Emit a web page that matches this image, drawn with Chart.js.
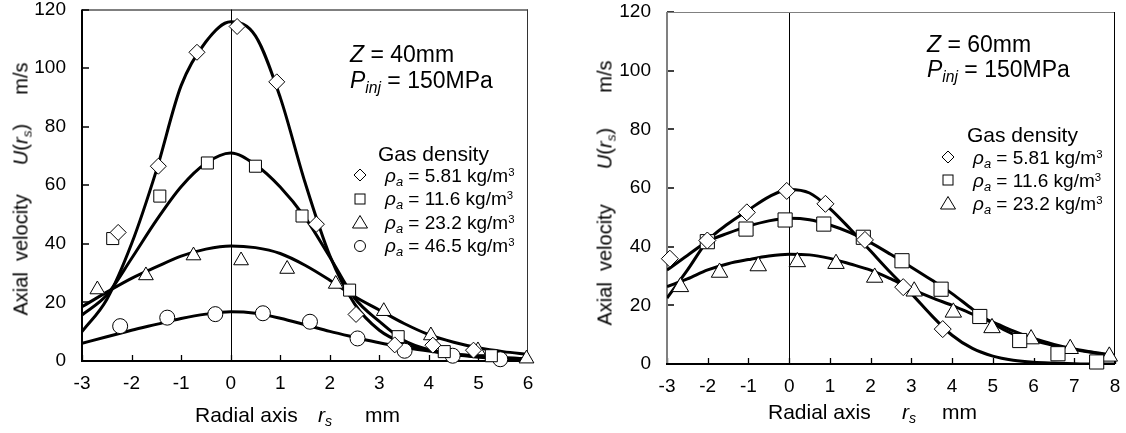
<!DOCTYPE html>
<html>
<head>
<meta charset="utf-8">
<title>Axial velocity profiles</title>
<script src="https://cdn.jsdelivr.net/npm/chart.js@4.4.1/dist/chart.umd.min.js"></script>
<style>
  html, body { margin: 0; padding: 0; background: #fff; }
  body { position: relative; width: 1126px; height: 433px; overflow: hidden;
         font-family: "Liberation Sans", Arial, sans-serif; color: #000; }
  canvas { position: absolute; top: 0; }
  #left { left: 0; }
  #right { left: 563px; }
  .lbl { position: absolute; line-height: 1; white-space: pre; }
  sub, sup { line-height: 0; }
  sub { font-size: 0.68em; vertical-align: -0.3em; }
  sup { font-size: 0.6em; vertical-align: 0.55em; }
  .ytitle { position: absolute; display: flex; justify-content: space-between;
            font-size: 20px; line-height: 1; height: 20px; white-space: pre;
            transform: rotate(-90deg); }
  .sym { position: absolute; overflow: visible; }
</style>
</head>
<body>
<canvas id="left" width="563" height="433"></canvas>
<canvas id="right" width="563" height="433"></canvas>
<script>
const FONT = '"Liberation Sans", Arial, sans-serif';

// axis ticks
const yTicks = [0, 20, 40, 60, 80, 100, 120];
const xTicksZ40 = [-3, -2, -1, 0, 1, 2, 3, 4, 5, 6];
const xTicksZ60 = [-3, -2, -1, 0, 1, 2, 3, 4, 5, 6, 7, 8];

// measured points, Z = 40mm   [r_s mm, U m/s]
const z40Rho581 = [[-2.27, 43.9], [-1.46, 66.5], [-0.68, 105.4], [0.13, 114.2], [0.93, 95.3],
                   [1.73, 46.7], [2.53, 15.9], [3.31, 5.5], [4.08, 5.4], [4.9, 3.7]];
const z40Rho116 = [[-2.38, 41.8], [-1.43, 56.3], [-0.47, 67.6], [0.5, 66.5], [1.44, 49.5],
                   [2.4, 24.2], [3.38, 8.3], [4.31, 3.2], [5.26, 1.8]];
const z40Rho232 = [[-2.69, 24.4], [-1.71, 29.2], [-0.75, 36], [0.21, 34.3], [1.14, 31.4],
                   [2.12, 26.3], [3.09, 17], [4.04, 8.7], [4.99, 3.6], [5.97, 0.8]];
const z40Rho465 = [[-2.23, 11.9], [-1.28, 14.8], [-0.31, 16], [0.65, 16.3], [1.6, 13.4],
                   [2.56, 7.7], [3.51, 3.5], [4.48, 1.8], [5.44, 0.6]];

// fitted curves, Z = 40mm, read every 0.5 mm
const curveX40 = [-3, -2.5, -2, -1.5, -1, -0.5, 0, 0.5, 1, 1.5, 2, 2.5, 3, 3.5, 4, 4.5, 5, 5.5, 6];
const fit40Rho581 = [10, 21, 40, 65, 94, 109, 115.8, 111, 90, 61, 36, 19.5, 10.5, 6, 3.7, 2.2, 1.3, 0.8, 0.5];
const fit40Rho116 = [15.7, 22.5, 35, 48, 59.5, 67.5, 71, 67, 59.4, 49, 35.5, 21.5, 13.5, 7, 3.9, 2.4, 1.6, 1.1, 0.8];
const fit40Rho232 = [18.5, 23.5, 28.2, 32.1, 35.8, 38.2, 39.3, 38.7, 36.7, 32.7, 27.6, 22, 17.4, 12.8, 9, 6.4, 4.5, 3.2, 2.3];
const fit40Rho465 = [6, 8.3, 10.5, 12.5, 14.5, 16, 16.8, 16.3, 14.6, 12.4, 10.1, 8.1, 6.2, 4.7, 3.4, 2.4, 1.6, 1.1, 0.8];

// measured points, Z = 60mm
const z60Rho581 = [[-2.93, 35.9], [-2.01, 42.1], [-1.04, 51.7], [-0.06, 59], [0.89, 54.6],
                   [1.86, 42.3], [2.8, 26.2], [3.77, 11.9]];
const z60Rho116 = [[-2.01, 41.7], [-1.06, 46], [-0.1, 49.1], [0.85, 47.7], [1.82, 43.2],
                   [2.77, 35.2], [3.73, 25.5], [4.68, 16.2], [5.66, 8], [6.6, 3.5], [7.55, 0.7]];
const z60Rho232 = [[-2.67, 26.3], [-1.71, 31.2], [-0.76, 33.4], [0.2, 34.8], [1.15, 34.2],
                   [2.1, 29.5], [3.07, 24.8], [4.03, 17.6], [4.98, 12.3], [5.94, 8.5],
                   [6.9, 5.2], [7.86, 2.6]];

// fitted curves, Z = 60mm
const curveX60 = [-3, -2.5, -2, -1.5, -1, -0.5, 0, 0.5, 1, 1.5, 2, 2.5, 3, 3.5, 4, 4.5, 5, 5.5, 6, 6.5, 7, 7.5, 8];
const fit60Rho581 = [22.5, 32, 42, 47.8, 52.5, 57, 59.5, 58.3, 53, 46, 38.5, 31, 24, 16.5, 9.8, 5.3, 2.7, 1.3, 0.6, 0.3, 0.1, 0, 0];
const fit60Rho116 = [32, 37, 41.8, 44.6, 47, 48.8, 49.7, 49.2, 47.4, 44.8, 41.4, 37.3, 33, 28.6, 24, 18.7, 13.8, 10.2, 8, 6.3, 4.9, 3.8, 2.8];
const fit60Rho232 = [26.4, 29, 32.1, 34.2, 35.6, 36.8, 37.4, 37.2, 36, 34.1, 32, 29, 25.6, 22.6, 20, 17, 14.3, 11.3, 8.7, 6.7, 5.1, 3.9, 2.9];

// frame, inward ticks and the r_s = 0 line
const frame = {
    id: "frame",
    beforeDatasetsDraw(chart, _args, o) {
        const { ctx, chartArea: a } = chart;
        const xs = chart.scales.x, ys = chart.scales.y;
        const seg = (x1, y1, x2, y2, color, w) => {
            ctx.beginPath();
            ctx.strokeStyle = color;
            ctx.lineWidth = w;
            ctx.moveTo(x1, y1);
            ctx.lineTo(x2, y2);
            ctx.stroke();
        };
        ctx.save();
        const x0 = Math.round(xs.getPixelForValue(0)) + 0.5;
        seg(x0, a.top, x0, a.bottom, "#000", 1);
        xs.ticks.forEach((t) => {
            const p = Math.round(xs.getPixelForValue(t.value)) + 0.5;
            seg(p, a.bottom, p, a.bottom - 6, "#000", 1.3);
        });
        ys.ticks.forEach((t) => {
            const p = Math.round(ys.getPixelForValue(t.value));
            seg(a.left, p, a.left + 7, p, "#000", 1.5);
        });
        seg(a.left, a.top + 0.5, a.right, a.top + 0.5, o.top, 1);
        seg(a.right - 0.5, a.top, a.right - 0.5, a.bottom, o.right, 1);
        seg(a.left, a.top, a.left, a.bottom + 1, o.left, 2);
        seg(a.left - 1, a.bottom, a.right, a.bottom, "#000", 2);
        ctx.restore();
    },
};

function markers(points, style, r) {
    return {
        type: "scatter",
        data: points.map(([x, y]) => ({ x, y })),
        pointStyle: style,
        pointRadius: r,
        pointBackgroundColor: "#fff",
        pointBorderColor: "#000",
        pointBorderWidth: 1,
        showLine: false,
        clip: false,
        order: 0,
    };
}

function curve(xs, ys) {
    return {
        type: "line",
        data: xs.map((x, i) => ({ x, y: ys[i] })),
        borderColor: "#000",
        borderWidth: 3,
        pointRadius: 0,
        fill: false,
        cubicInterpolationMode: "monotone",
        order: 1,
    };
}

function build(id, cfg) {
    return new Chart(document.getElementById(id), {
        type: "scatter",
        data: { datasets: cfg.datasets },
        plugins: [frame],
        options: {
            responsive: false,
            animation: false,
            events: [],
            layout: { padding: { top: cfg.top, right: cfg.padRight, left: 0, bottom: 0 } },
            plugins: {
                legend: { display: false },
                tooltip: { enabled: false },
                frame: cfg.frame,
            },
            scales: {
                x: {
                    type: "linear",
                    min: cfg.xTicks[0],
                    max: cfg.xTicks[cfg.xTicks.length - 1],
                    grid: { display: false, drawTicks: false },
                    border: { display: false },
                    afterBuildTicks: (s) => { s.ticks = cfg.xTicks.map((v) => ({ value: v })); },
                    afterFit: (s) => { s.height = cfg.xHeight; s.paddingLeft = 0; s.paddingRight = 0; },
                    ticks: { padding: 11, autoSkip: false, maxRotation: 0, color: "#000",
                             font: { family: FONT, size: 19 } },
                },
                y: {
                    type: "linear",
                    min: 0,
                    max: 120,
                    grid: { display: false, drawTicks: false },
                    border: { display: false },
                    afterBuildTicks: (s) => { s.ticks = yTicks.map((v) => ({ value: v })); },
                    afterFit: (s) => { s.width = cfg.yWidth; s.paddingTop = 0; s.paddingBottom = 0; },
                    ticks: { padding: 16, color: "#000", font: { family: FONT, size: 19 } },
                },
            },
        },
    });
}

build("left", {
    top: 8, padRight: 35, xHeight: 72, yWidth: 82, xTicks: xTicksZ40,
    frame: { top: "#000", right: "#333", left: "#000" },
    datasets: [
        markers(z40Rho581, "rectRot", 8),
        markers(z40Rho116, "rect", 8.5),
        markers(z40Rho232, "triangle", 8.5),
        markers(z40Rho465, "circle", 7.5),
        curve(curveX40, fit40Rho581),
        curve(curveX40, fit40Rho116),
        curve(curveX40, fit40Rho232),
        curve(curveX40, fit40Rho465),
    ],
});

build("right", {
    top: 12, padRight: 8, xHeight: 69, yWidth: 104, xTicks: xTicksZ60,
    frame: { top: "#808080", right: "#000", left: "#808080" },
    datasets: [
        markers(z60Rho581, "rectRot", 8.5),
        markers(z60Rho116, "rect", 10),
        markers(z60Rho232, "triangle", 9.5),
        curve(curveX60, fit60Rho581),
        curve(curveX60, fit60Rho116),
        curve(curveX60, fit60Rho232),
    ],
});

// text overlays
function put(html, x, cy, size) {
    const d = document.createElement("div");
    d.className = "lbl";
    d.style.left = x + "px";
    d.style.top = (cy - size / 2) + "px";
    d.style.fontSize = size + "px";
    d.innerHTML = html;
    document.body.appendChild(d);
}

function yTitle(cx, yTop, yBottom) {
    const len = yBottom - yTop;
    const d = document.createElement("div");
    d.className = "ytitle";
    d.style.width = len + "px";
    d.style.left = (cx - len / 2) + "px";
    d.style.top = ((yTop + yBottom) / 2 - 10) + "px";
    d.innerHTML = "<span>Axial  velocity</span><span><i>U</i>(<i>r<sub>s</sub></i>)</span><span>m/s</span>";
    document.body.appendChild(d);
}

const SYMBOLS = {
    diamond: '<polygon points="7,1 13,7 7,13 1,7"/>',
    square: '<rect x="2" y="2" width="10" height="10"/>',
    triangle: '<polygon points="7,0.5 14.5,13 -0.5,13"/>',
    circle: '<circle cx="7" cy="7" r="5.5"/>',
};

function sym(kind, cx, cy) {
    const ns = "http://www.w3.org/2000/svg";
    const s = document.createElementNS(ns, "svg");
    s.setAttribute("class", "sym");
    s.setAttribute("width", "14");
    s.setAttribute("height", "14");
    s.setAttribute("viewBox", "0 0 14 14");
    s.style.left = (cx - 7) + "px";
    s.style.top = (cy - 7) + "px";
    s.innerHTML = '<g fill="none" stroke="#000" stroke-width="1">' + SYMBOLS[kind] + "</g>";
    document.body.appendChild(s);
}

const rho = (v) => "<i>ρ<sub>a</sub></i> = " + v + " kg/m<sup>3</sup>";

const legendZ40 = [["diamond", "5.81"], ["square", "11.6"], ["triangle", "23.2"], ["circle", "46.5"]];
const legendZ60 = [["diamond", "5.81"], ["square", "11.6"], ["triangle", "23.2"]];

// left panel
put("<i>Z</i> = 40mm", 350, 54, 23);
put("<i>P<sub>inj</sub></i> = 150MPa", 350, 80, 23);
put("Gas density", 378, 153, 21);
legendZ40.forEach(([k, v], i) => {
    const cy = 175 + i * 23.5;
    sym(k, 360, cy);
    put(rho(v), 385, cy, 19);
});
put("Radial axis", 195, 414, 21);
put("<i>r<sub>s</sub></i>", 318, 414, 21);
put("mm", 365, 414, 21);
yTitle(20, 62, 315);

// right panel
put("<i>Z</i> = 60mm", 927, 44, 23);
put("<i>P<sub>inj</sub></i> = 150MPa", 927, 69, 23);
put("Gas density", 967, 134, 21);
legendZ60.forEach(([k, v], i) => {
    const cy = 157 + i * 23;
    sym(k, 948, cy);
    put(rho(v), 973, cy, 19);
});
put("Radial axis", 768, 411, 21);
put("<i>r<sub>s</sub></i>", 902, 411, 21);
put("mm", 942, 411, 21);
yTitle(604, 60, 325);
</script>
</body>
</html>
